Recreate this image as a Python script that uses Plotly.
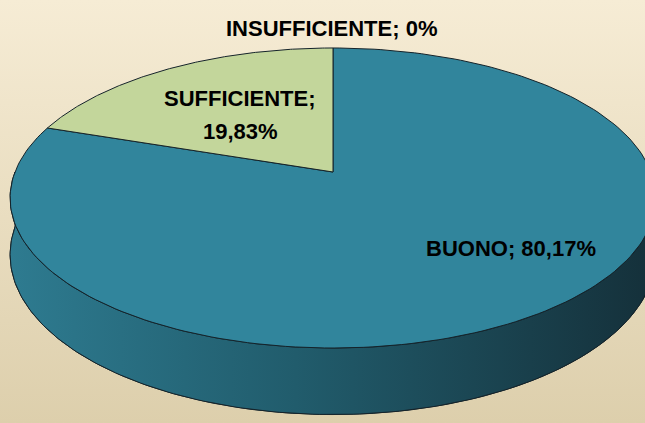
import numpy as np
import plotly.graph_objects as go

# dati del grafico
categorie = ['BUONO', 'SUFFICIENTE', 'INSUFFICIENTE']
percentuali = [80.17, 19.83, 0.0]
colori_fette = ['#31859C', '#C3D69B', '#B9CDE5']

W, H = 645, 423
# geometria della torta 3D (prospettiva semplice)
cx, rx = 333, 318
a, b, c = 115.7, 172, -0.1733
D = 55


def proietta(phi, h):
    # phi in gradi, in senso orario dalle ore 12; h=0 faccia superiore, h=1 base
    r = np.radians(phi)
    u = np.sin(r)
    v = -np.cos(r)
    w = 1 + c * v
    return cx + rx * u / w, (a * v + b + D * h) / w


def etichetta(nome, val):
    if val == 0:
        s = '0'
    else:
        s = f'{val:.2f}'.replace('.', ',')
    return f'{nome}; {s}%'


fig = go.Figure()

# sfondo sfumato
fig.add_trace(go.Scatter(x=[0, W, W, 0, 0], y=[0, 0, H, H, 0], mode='lines', fill='toself',
                         line=dict(width=0),
                         fillgradient=dict(type='vertical', start=0, stop=H,
                                           colorscale=[[0, '#F6ECD5'], [1, '#DDCFAC']]),
                         hoverinfo='skip', showlegend=False))

lato_scala = [[0, '#2E7B90'], [0.45, '#215C6C'], [1, '#15313B']]
grad = dict(type='horizontal', start=10, stop=W, colorscale=lato_scala)
bordo = dict(color='#15232A', width=1)

# base (ellisse inferiore)
phi = np.linspace(0, 360, 361)
bx, by = proietta(phi, 1)
fig.add_trace(go.Scatter(x=bx, y=by, mode='lines', fill='toself', line=bordo,
                         fillgradient=grad, hoverinfo='skip', showlegend=False))

# fascia laterale frontale
phi_f = np.linspace(90, 270, 181)
tx, ty = proietta(phi_f, 0)
bx, by = proietta(phi_f[::-1], 1)
fig.add_trace(go.Scatter(x=np.r_[tx, bx, tx[:1]], y=np.r_[ty, by, ty[:1]], mode='lines',
                         fill='toself', line=bordo, fillgradient=grad,
                         hoverinfo='skip', showlegend=False))

# facce superiori delle fette
angoli = np.r_[0, np.cumsum(percentuali)] / 100 * 360
for i, nome in enumerate(categorie):
    if percentuali[i] == 0:
        continue
    p = np.linspace(angoli[i], angoli[i + 1], 200)
    px_, py_ = proietta(p, 0)
    x = np.r_[cx, px_, cx]
    y = np.r_[b, py_, b]
    fig.add_trace(go.Scatter(x=x, y=y, mode='lines', fill='toself', fillcolor=colori_fette[i],
                             line=bordo, name=nome, hoverinfo='name', showlegend=False))

# etichette (SUFFICIENTE va a capo dopo il punto e virgola)
pos_etichette = {'BUONO': (511, 248), 'SUFFICIENTE': (240, 98), 'INSUFFICIENTE': (331, 28)}
interlinea = 33
for nome, val in zip(categorie, percentuali):
    testo = etichetta(nome, val)
    righe = testo.replace('; ', ';\n').split('\n') if nome == 'SUFFICIENTE' else [testo]
    x0, y0 = pos_etichette[nome]
    for k, riga in enumerate(righe):
        fig.add_annotation(x=x0, y=y0 + k * interlinea, text=riga, showarrow=False,
                           xref='x', yref='y',
                           font=dict(family='Liberation Sans, Arial', size=22,
                                     color='#000000', weight='bold'))

fig.update_xaxes(range=[0, W], visible=False, fixedrange=True)
fig.update_yaxes(range=[H, 0], visible=False, fixedrange=True)
fig.update_layout(width=W, height=H, margin=dict(l=0, r=0, t=0, b=0),
                  paper_bgcolor='#F1E6CC', plot_bgcolor='#F1E6CC')

fig.write_html('out.html', config={'displayModeBar': False},
               post_script="document.body.style.margin = '0';")
